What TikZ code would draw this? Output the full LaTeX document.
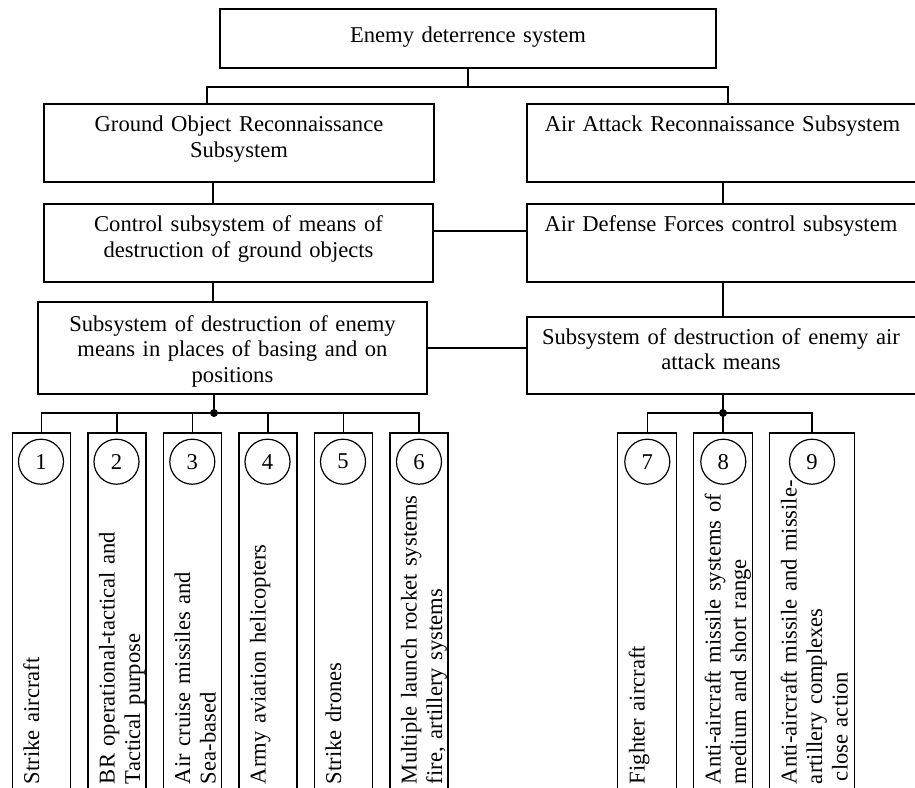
\documentclass[tikz,border=0pt]{standalone}
\usepackage{fontspec}
\setmainfont{Liberation Serif}
\begin{document}
\begin{tikzpicture}[x=1pt,y=-1pt,
  every node/.style={inner sep=0pt, outer sep=0pt},
  frame/.style={draw, line width=1.2pt},
  lbl/.style={text width=385pt, align=center, anchor=base, font=\fontsize{22.6}{25.5}\selectfont},
  vlbl/.style={text width=360pt, align=left, anchor=base west, rotate=90, font=\fontsize{22.6}{25.5}\selectfont},
  num/.style={draw, circle, line width=1.2pt, minimum size=45pt, font=\fontsize{22.6}{25}\selectfont},
  link/.style={draw, line width=1.2pt},
  dotc/.style={circle, fill, minimum size=8pt}
]
\useasboundingbox (0,0) rectangle (915,787);
\clip (0,0) rectangle (915,787);

% main boxes
\node[frame, minimum width=496pt, minimum height=59pt] (top) at (468,38.5) {};
\node[lbl] (topt) at (468,42) {Enemy deterrence system};

\node[frame, minimum width=390pt, minimum height=78pt] (ground) at (239,143) {};
\node[lbl] (groundt) at (239,131.5) {Ground Object Reconnaissance\\Subsystem};

\node[frame, minimum width=391pt, minimum height=78pt] (airatt) at (722.5,143) {};
\node[lbl] (airattt) at (722.5,131.5) {Air Attack Reconnaissance Subsystem};

\node[frame, minimum width=389pt, minimum height=78pt] (control) at (238.5,243) {};
\node[lbl] (controlt) at (238.5,231.5) {Control subsystem of means of\\destruction of ground objects};

\node[frame, minimum width=391pt, minimum height=78pt] (airdef) at (722.5,243) {};
\node[lbl] (airdeft) at (721,231.5) {Air Defense Forces control subsystem};

\node[frame, minimum width=389pt, minimum height=92pt] (destr) at (232.5,348) {};
\node[lbl] (destrt) at (232.5,331) {Subsystem of destruction of enemy\\means in places of basing and on\\positions};

\node[frame, minimum width=391pt, minimum height=77pt] (airdestr) at (722.5,355.5) {};
\node[lbl] (airdestrt) at (721,344) {Subsystem of destruction of enemy air\\attack means};

% small boxes
\node[frame, minimum width=58pt, minimum height=377pt] (b1) at (41.5,621.5) {};
\node[frame, minimum width=58pt, minimum height=377pt] (b2) at (117,621.5) {};
\node[frame, minimum width=58pt, minimum height=377pt] (b3) at (192.5,621.5) {};
\node[frame, minimum width=58pt, minimum height=377pt] (b4) at (268,621.5) {};
\node[frame, minimum width=58pt, minimum height=377pt] (b5) at (343.5,621.5) {};
\node[frame, minimum width=58pt, minimum height=377pt] (b6) at (419,621.5) {};
\node[frame, minimum width=59pt, minimum height=377pt] (b7) at (647.2,621.5) {};
\node[frame, minimum width=58.6pt, minimum height=377pt] (b8) at (723,621.5) {};
\node[frame, minimum width=84.6pt, minimum height=377pt] (b9) at (812,621.5) {};

\node[num] (c1) at (41,461.7) {1};
\node[num] (c2) at (116.5,461.7) {2};
\node[num] (c3) at (192.3,461.7) {3};
\node[num] (c4) at (267.5,461.7) {4};
\node[num] (c5) at (343,461.7) {5};
\node[num] (c6) at (419,461.7) {6};
\node[num] (c7) at (647.3,461.7) {7};
\node[num] (c8) at (723.3,461.7) {8};
\node[num] (c9) at (812,461.7) {9};

\node[vlbl] (t1) at (39,784) {Strike aircraft};
\node[vlbl] (t2) at (114.5,784) {BR operational-tactical and\\Tactical purpose};
\node[vlbl] (t3) at (190,784) {Air cruise missiles and\\Sea-based};
\node[vlbl] (t4) at (265.5,784) {Army aviation helicopters};
\node[vlbl] (t5) at (341,784) {Strike drones};
\node[vlbl] (t6) at (416.5,784) {Multiple launch rocket systems\\fire, artillery systems};
\node[vlbl] (t7) at (644.5,784) {Fighter aircraft};
\node[vlbl] (t8) at (720.5,784) {Anti-aircraft missile systems of\\medium and short range};
\node[vlbl] (t9) at (796.5,784) {Anti-aircraft missile and missile-\\artillery complexes\\\hspace*{3pt}close action};

% connectors
\coordinate (j0) at (468,87);
\coordinate (xl) at (213,0);
\coordinate (xr) at (723,0);
\coordinate (h1) at (0,231);
\coordinate (h2) at (0,348);
\coordinate (dl) at (214,413);
\coordinate (dr) at (723,413);

\draw[link] (top.south) -- (j0);
\draw[link] ([xshift=-32pt]ground.north) |- (j0) -| ([xshift=5.5pt]airatt.north);
\draw[link] (xl |- ground.south) -- (xl |- control.north);
\draw[link] (xr |- airatt.south) -- (xr |- airdef.north);
\draw[link] (control.east |- h1) -- (airdef.west |- h1);
\draw[link] (xl |- control.south) -- (xl |- destr.north);
\draw[link] (xr |- airdef.south) -- (xr |- airdestr.north);
\draw[link] (destr.east |- h2) -- (airdestr.west |- h2);

\draw[link] (destr.south -| dl) -- (dl);
\draw[link] (b1.north) |- (dl) -| (b6.north);
\draw[link] (b2.north) -- (b2.north |- dl);
\draw[link] (b3.north) -- (b3.north |- dl);
\draw[link] (b4.north) -- (b4.north |- dl);
\draw[link] (b5.north) -- (b5.north |- dl);
\node[dotc] (dotl) at (dl) {};

\draw[link] (airdestr.south -| dr) -- (dr);
\draw[link] (b7.north) |- (dr) -| (b9.north);
\draw[link] (b8.north) -- (b8.north |- dr);
\node[dotc] (dotr) at (dr) {};
\end{tikzpicture}
\end{document}
